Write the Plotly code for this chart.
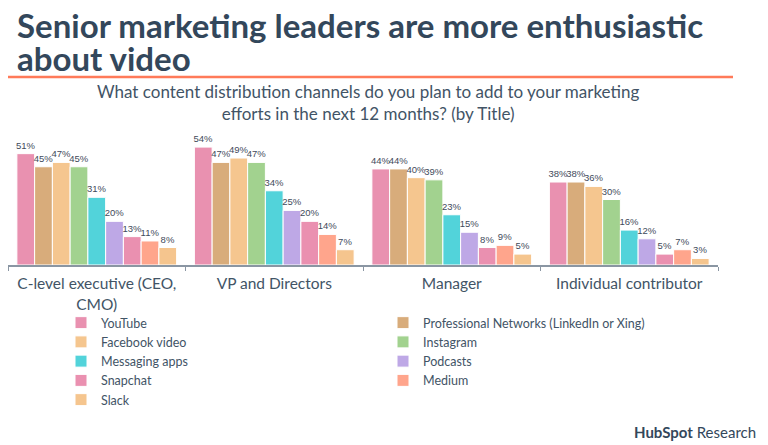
import plotly.graph_objects as go

categories = ["C-level executive (CEO,<br>CMO)", "VP and Directors", "Manager", "Individual contributor"]
series_names = ["YouTube", "Professional Networks (LinkedIn or Xing)", "Facebook video", "Instagram",
                "Messaging apps", "Podcasts", "Snapchat", "Medium", "Slack"]
youtube = [51, 54, 44, 38]
prof_networks = [45, 47, 44, 38]
facebook_video = [47, 49, 40, 36]
instagram = [45, 47, 39, 30]
messaging_apps = [31, 34, 23, 16]
podcasts = [20, 25, 15, 12]
snapchat = [13, 20, 8, 5]
medium = [11, 14, 9, 7]
slack = [8, 7, 5, 3]
series_values = [youtube, prof_networks, facebook_video, instagram, messaging_apps,
                 podcasts, snapchat, medium, slack]
colors = ["#E991B0", "#D8AC7B", "#F5C68F", "#A2D28F", "#52D3DA", "#BEA8E6", "#EA90B0", "#FFA58C", "#F5C58E"]
legend_col = ["legend", "legend2", "legend", "legend2", "legend", "legend2", "legend", "legend2", "legend"]

title_lines = ["Senior marketing leaders are more enthusiastic", "about video"]
subtitle = "What content distribution channels do you plan to add to your marketing<br>efforts in the next 12 months? (by Title)"

DARK = "#33475B"
TXT = "#425466"
FONT = "Lato, 'Open Sans', sans-serif"

W, H = 768, 445
ML, MR, MT, MB = 8, 50, 134, 180

fig = go.Figure()
for name, vals, col, lg in zip(series_names, series_values, colors, legend_col):
    fig.add_trace(go.Bar(
        x=categories, y=vals, name=name, legend=lg,
        marker=dict(color=col, line=dict(color="white", width=1)),
        text=[f"{v}%" for v in vals], textposition="outside",
        textfont=dict(size=9.5, color="#3f4b5b", family="Liberation Sans, Arial, sans-serif"),
        cliponaxis=False,
    ))

plot_h = H - MT - MB
plot_w = W - ML - MR
def py(pix):
    return (H - MB - pix) / plot_h
def px(pix):
    return (pix - ML) / plot_w

fig.update_layout(
    width=W, height=H,
    margin=dict(l=ML, r=MR, t=MT, b=MB, autoexpand=False),
    paper_bgcolor="white", plot_bgcolor="white",
    barmode="group", bargap=0.1, bargroupgap=0,
    uniformtext=dict(minsize=9.5, mode="show"),
    font=dict(family=FONT, color=TXT),
    showlegend=True,
    legend=dict(x=px(61), y=py(308), xanchor="left", yanchor="top", orientation="v",
                font=dict(size=12.5, color=TXT, family=FONT), tracegroupgap=0,
                itemwidth=30, bgcolor="rgba(0,0,0,0)"),
    legend2=dict(x=px(383), y=py(308), xanchor="left", yanchor="top", orientation="v",
                 font=dict(size=12.5, color=TXT, family=FONT), tracegroupgap=0,
                 itemwidth=30, bgcolor="rgba(0,0,0,0)"),
    xaxis=dict(showline=True, linecolor="#8a96a3", linewidth=1.5, ticks="outside",
               tickson="boundaries", ticklen=4, tickcolor="#8a96a3", ticklabelstandoff=4,
               tickfont=dict(size=15.5, color=TXT, family=FONT), showgrid=False),
    yaxis=dict(range=[0, 60], visible=False, showgrid=False),
)

fig.add_annotation(xref="paper", yref="paper", x=px(15), y=py(25), xanchor="left", yanchor="middle",
                   showarrow=False, align="left", text=title_lines[0],
                   font=dict(size=33, color=DARK, family=FONT, weight="bold"))
fig.add_annotation(xref="paper", yref="paper", x=px(15), y=py(58), xanchor="left", yanchor="middle",
                   showarrow=False, align="left", text=title_lines[1],
                   font=dict(size=33, color=DARK, family=FONT, weight="bold"))

fig.add_shape(type="line", xref="paper", yref="paper", x0=px(8), x1=px(733), y0=py(77), y1=py(77),
              line=dict(color="#FF7A59", width=2.5))

fig.add_annotation(xref="paper", yref="paper", x=px(368), y=py(102), xanchor="center", yanchor="middle",
                   showarrow=False, align="center", text=subtitle,
                   font=dict(size=17, color=TXT, family=FONT))
fig.add_annotation(xref="paper", yref="paper", x=px(758), y=py(432), xanchor="right", yanchor="middle",
                   showarrow=False,
                   text="<b>HubSpot</b> Research",
                   font=dict(size=15, color=DARK, family=FONT))

fig.write_html("out.html", config={"displayModeBar": False},
               post_script="document.body.style.margin='0px';document.body.style.padding='0px';")
